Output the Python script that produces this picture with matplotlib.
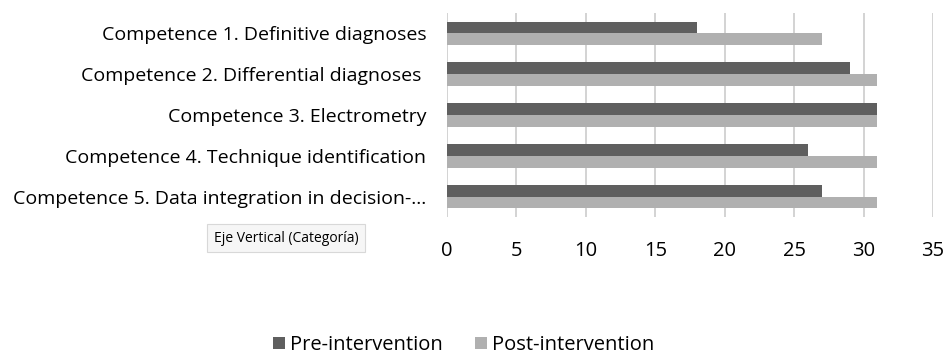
import numpy as np
import matplotlib.pyplot as plt

categories = [
    "Competence 1. Definitive diagnoses",
    "Competence 2. Differential diagnoses ",
    "Competence 3. Electrometry",
    "Competence 4. Technique identification",
    "Competence 5. Data integration in decision-...",
]
pre = [18, 29, 31, 26, 27]
post = [27, 31, 31, 31, 31]
series_names = ["Pre-intervention", "Post-intervention"]
x_ticks = [0, 5, 10, 15, 20, 25, 30, 35]

plt.rcParams['font.family'] = ['Open Sans', 'DejaVu Sans']

fig = plt.figure(figsize=(9.46, 3.59), dpi=100)
ax = fig.add_axes([447 / 946, 1 - 217 / 359, (933 - 447) / 946, (217 - 13) / 359])

y = np.arange(len(categories))
h = 0.29
ax.barh(y - h / 2, pre, height=h, color='#5f5f5f', label=series_names[0], zorder=3)
ax.barh(y + h / 2, post, height=h, color='#b0b0b0', label=series_names[1], zorder=3)

ax.set_ylim(len(categories) - 0.5, -0.5)
ax.set_xlim(0, 35)
ax.set_xticks(x_ticks)
ax.set_yticks(y)
ax.set_yticklabels(categories, fontsize=14)
ax.tick_params(axis='y', length=0, pad=15)
ax.tick_params(axis='x', length=0, pad=17, labelsize=14.5)
ax.grid(axis='x', color='#cccccc', linewidth=1.2, zorder=0)
for s in ax.spines.values():
    s.set_visible(False)

# tooltip box under the category axis
fig.text(286 / 946, 1 - 238 / 359, "Eje Vertical (Categoría)", fontsize=10,
         ha='center', va='center',
         bbox=dict(boxstyle='square,pad=0.5', facecolor='#f6f6f6',
                   edgecolor='#d8d8d8', linewidth=0.8))

fig.legend(loc='center', bbox_to_anchor=(464 / 946, 1 - 345 / 359), ncol=2,
           frameon=False, fontsize=14.5, handlelength=0.6, handleheight=0.6,
           handletextpad=0.25, columnspacing=1.6)

fig.savefig('out.png', dpi=100)
